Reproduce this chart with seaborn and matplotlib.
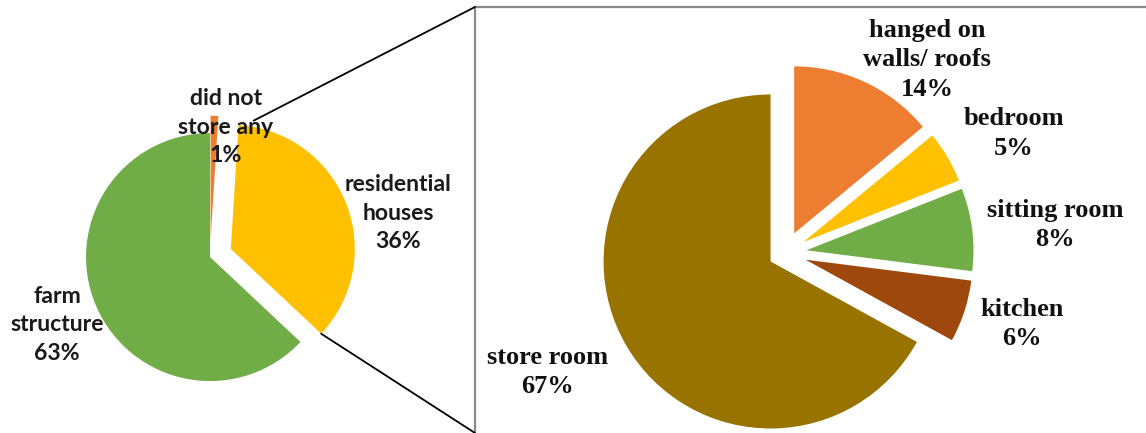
import matplotlib
matplotlib.use("Agg")
import numpy as np
import matplotlib.pyplot as plt
import seaborn as sns
from matplotlib.patches import ConnectionPatch

sns.set_theme(style="white")

# Where the harvest was stored
storage_places = ["did not\nstore any", "residential\nhouses", "farm\nstructure"]
storage_share = [1, 36, 63]
storage_colors = ["#ED7D31", "#FFC000", "#70AD47"]

# Breakdown of storage inside residential houses
house_rooms = ["hanged on\nwalls/ roofs", "bedroom", "sitting room", "kitchen", "store room"]
house_share = [14, 5, 8, 6, 67]
house_colors = ["#ED7D31", "#FFC000", "#70AD47", "#9E480E", "#997300"]

W, H = 1146, 433
fig = plt.figure(figsize=(W / 100, H / 100), dpi=100)
fig.patch.set_facecolor("white")

ax_l = fig.add_axes([0, 0, 475 / W, 1])
ax_r = fig.add_axes([475 / W, 0, 1 - 475 / W, (H - 7) / H])

# ---- left pie -------------------------------------------------------------
wl, _ = ax_l.pie(storage_share, colors=storage_colors, startangle=90,
                 counterclock=False, explode=[0.14, 0.18, 0],
                 wedgeprops=dict(linewidth=0))
ax_l.set_aspect("auto")
ax_l.set_xlim(-1.694, 2.137)
ax_l.set_ylim(-1.419, 2.073)
ax_l.axis("off")

left_label_pos = [(0.129, 1.048), (1.516, 0.355), (-1.234, -0.548)]
for name, val, (x, y) in zip(storage_places, storage_share, left_label_pos):
    ax_l.text(x, y, f"{name}\n{val}%", ha="center", va="center",
              fontfamily="Lato", fontweight="bold", fontsize=16.6,
              color="#1a1a1a", linespacing=1.42)

# ---- right pie ------------------------------------------------------------
wr, _ = ax_r.pie(house_share, colors=house_colors, startangle=90,
                 counterclock=False, explode=[0.13, 0.13, 0.13, 0.13, 0.10],
                 wedgeprops=dict(linewidth=0))
ax_r.set_aspect("auto")
ax_r.set_xlim(-1.856, 2.162)
ax_r.set_ylim(-1.078, 1.473)
ax_r.set_xticks([])
ax_r.set_yticks([])
ax_r.set_frame_on(True)
for side in ["right", "bottom"]:
    ax_r.spines[side].set_visible(False)
for side in ["top", "left"]:
    ax_r.spines[side].set_visible(True)
    ax_r.spines[side].set_color("#8a8a8a")
    ax_r.spines[side].set_linewidth(1.6)

right_label_pos = [(0.850, 1.156), (1.371, 0.713), (1.617, 0.168),
                   (1.419, -0.425), (-1.419, -0.713)]
for name, val, (x, y) in zip(house_rooms, house_share, right_label_pos):
    ax_r.text(x, y, f"{name}\n{val}%", ha="center", va="center",
              fontfamily="Liberation Serif", fontweight="bold", fontsize=19,
              color="#111111", linespacing=1.38)

# ---- connector lines from the residential slice to the detail box ---------
res = wl[1]
cx, cy = res.center
a_top = np.deg2rad(res.theta2 - 6.5)
a_bot = np.deg2rad(res.theta1)
p_top = (cx + 1.05 * np.cos(a_top), cy + 1.05 * np.sin(a_top))
p_bot = (cx + res.r * np.cos(a_bot), cy + res.r * np.sin(a_bot))
for p, corner in [(p_top, (0, 1)), (p_bot, (0, 0))]:
    con = ConnectionPatch(xyA=p, coordsA=ax_l.transData, xyB=corner,
                          coordsB=ax_r.transAxes, color="black", lw=1.3)
    fig.add_artist(con)

fig.savefig("out.png", dpi=100, facecolor="white")
